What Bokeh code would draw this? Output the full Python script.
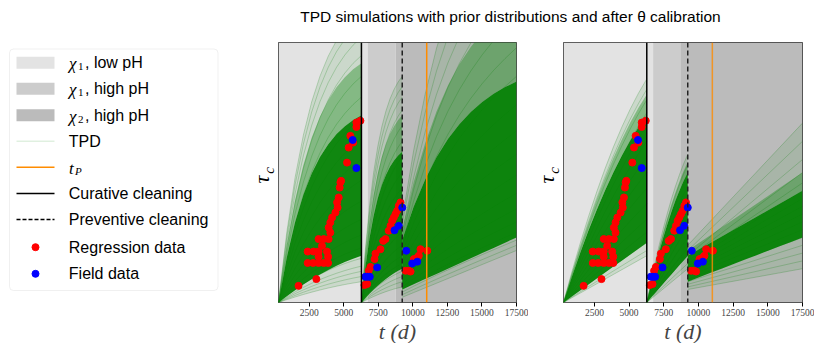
from bokeh.plotting import figure
from bokeh.models import Range1d, BoxAnnotation, Span, FixedTicker
from bokeh.layouts import row, column
from bokeh.embed import file_html
from bokeh.resources import INLINE
from bokeh.core.properties import value
import math

# ---------------- data ----------------
t_min, t_max = 270, 17500
x_ticks = [2500, 5000, 7500, 10000, 12500, 15000, 17500]

regime_edges = [270, 6730, 8740, 17500]
regime_colors = ["#e3e3e3", "#cccccc", "#bbbbbb"]

curative_t = 6274
preventive_t = 9227
t_P = 11000

seg_start = [270, 6274, 9227]
seg_end = [6274, 9227, 17500]

reg_t = [1720, 3010, 2380, 2770, 3170, 3540, 3860, 2380, 2810, 3170, 3780, 3170, 3860,
         3420, 3170, 3540, 3900, 3900, 4020, 4150, 4020, 4390, 4550, 4510, 4630, 4700,
         4750, 4800, 5230, 5350, 5470, 5670, 5910, 6200, 5910,
         6490, 6690, 6800, 6930, 7220, 7290, 7650, 7850, 8020, 8250, 8380, 8500, 8620,
         8740, 8860, 8980, 9100,
         9470, 9700, 9830, 10070, 10320, 10430, 10550, 11040]
reg_y = [6.4, 9.0, 15.2, 15.2, 15.2, 15.2, 15.2, 19.6, 19.6, 19.6, 19.6, 17.6, 17.6,
         21.8, 24.4, 24.4, 24.4, 28.8, 30.8, 32.7, 26.9, 34.6, 36.5, 38.5, 40.4, 44.2,
         46.2, 46.8, 53.8, 59.6, 64.1, 61.5, 69.2, 69.9, 67.5,
         6.7, 7.1, 12.2, 13.7, 16.7, 18.8, 20.5, 23.7, 24.4, 27.6, 29.5, 31.4, 32.7,
         34.0, 35.3, 37.2, 38.5,
         12.2, 12.2, 11.9, 16.7, 17.3, 18.0, 20.5, 19.9]

field_t = [5640, 5910, 6560, 6720, 6880, 7410, 8670, 8980, 9230, 9520, 9950, 10320]
field_y = [62.5, 51.7, 9.9, 9.9, 9.9, 13.5, 27.8, 29.5, 36.5, 19.9, 15.0, 15.7]

# TPD bundle growth profiles (fraction of a segment's rise, at 11 equally spaced times)
shape_u = [0, .1, .2, .3, .4, .5, .6, .7, .8, .9, 1]
shape_lin = [0, .1, .2, .3, .4, .5, .6, .7, .8, .9, 1]
shape_slight = [0, .136, .264, .384, .496, .6, .696, .784, .864, .936, 1]
shape_k2 = [0, .210, .381, .522, .637, .731, .808, .871, .923, .965, 1]
shape_k25 = [0, .241, .429, .575, .689, .777, .846, .900, .942, .975, 1]

# prior TPD simulations: values at the end of each segment
prior_end = [[8, 10, 12, 14, 17, 21, 26, 32, 39, 47, 55, 63, 71, 79, 87, 95, 102, 108, 112],
             [6, 8, 10, 12, 15, 18, 22, 27, 32, 38, 44, 50, 56, 62, 68, 74, 79, 83, 87],
             [20, 22, 24, 27, 31, 36, 42, 49, 57, 66, 76, 87, 98, 110, 122, 134, 146, 158]]
prior_seg3_start = [2, 3, 4, 5, 6, 7, 9, 11, 13, 15, 17, 19, 21, 23, 25, 27, 30, 32]
prior_core_lo = [(0, 18), (0, 13), (5, 25)]
prior_core_hi = [(0, 72), (0, 58), (24, 85)]
prior_mid_hi = [(0, 92), (0, 72), (28, 115)]
prior_shape_low = [shape_slight, shape_slight, shape_lin]
prior_shape_high = [shape_k25, shape_k25, shape_k2]

# posterior (after calibration) TPD simulations
post_end = [[18, 20, 23, 27, 32, 38, 44, 50, 56, 62, 68, 73, 78, 82, 86],
            [13, 15, 18, 21, 25, 29, 33, 37, 41, 45, 49, 53, 57],
            [13, 16, 19, 22, 25, 28, 31, 34, 37, 40, 43, 46, 50, 55, 62, 69]]
post_seg3_start = [5, 6, 7, 8, 9, 10, 11, 12, 13, 14, 15, 16, 17, 18, 20, 22]
post_core_lo = [(0, 23), (0, 18), (8, 25)]
post_core_hi = [(0, 72), (0, 50), (18, 43)]
post_mid_hi = [(0, 80), (0, 54), (20, 50)]
post_shape_low = [shape_lin, shape_lin, shape_lin]
post_shape_high = [shape_slight, shape_slight, shape_lin]

title_text = "TPD simulations with prior distributions and after θ calibration"

legend_math = ["χ", "χ", "χ", "", "t", "", "", "", ""]
legend_sub = ["1", "1", "2", "", "P", "", "", "", ""]
legend_rest = [", low pH", ", high pH", ", high pH", "TPD", "", "Curative cleaning",
               "Preventive cleaning", "Regression data", "Field data"]

SANS = "Liberation Sans"
SERIF = "Liberation Serif"


def curve(v0, v1, shape):
    return [v0 + (v1 - v0) * s for s in shape]


def blend(low, high, w):
    return [(1 - w) * a + w * b for a, b in zip(low, high)]


def make_panel(ends, seg3_start, core_lo, core_hi, mid_hi, sh_low, sh_high,
               left_border, frame_w, right_border, orange_alpha):
    p = figure(frame_width=frame_w, frame_height=260, min_border_left=left_border,
               min_border_right=right_border, min_border_top=4, min_border_bottom=41,
               x_range=Range1d(t_min, t_max), y_range=Range1d(0, 100),
               output_backend="svg", toolbar_location=None)
    p.grid.visible = False
    p.yaxis.visible = False
    p.outline_line_color = "#333333"
    p.outline_line_width = 1
    p.background_fill_color = "white"
    p.border_fill_color = "white"

    ax = p.xaxis[0]
    ax.ticker = FixedTicker(ticks=x_ticks)
    ax.axis_line_color = None
    ax.major_tick_in = 0
    ax.major_tick_out = 4
    ax.minor_tick_line_color = None
    ax.major_label_text_font = SERIF
    ax.major_label_text_font_size = "9.5px"
    ax.major_label_standoff = 2
    ax.axis_label = "t (d)"
    ax.axis_label_text_font = SERIF
    ax.axis_label_text_font_style = "italic"
    ax.axis_label_text_font_size = "22px"
    ax.axis_label_standoff = 0

    for i in range(3):
        p.add_layout(BoxAnnotation(left=regime_edges[i], right=regime_edges[i + 1],
                                   fill_color=regime_colors[i], fill_alpha=1,
                                   line_color=None, level="underlay"))

    for i in range(3):
        t = [seg_start[i] + u * (seg_end[i] - seg_start[i]) for u in shape_u]
        n = len(ends[i])
        starts = seg3_start if i == 2 else [0] * n
        lo_sh, hi_sh = sh_low[i], sh_high[i]
        p.varea(x=t, y1=curve(starts[0], ends[i][0], lo_sh),
                y2=curve(starts[-1], ends[i][-1], hi_sh), fill_color="green", fill_alpha=0.10)
        ys = [curve(starts[j], ends[i][j], blend(lo_sh, hi_sh, j / (n - 1))) for j in range(n)]
        p.multi_line(xs=[t] * n, ys=ys, line_color="green", line_alpha=0.22, line_width=1)
        p.varea(x=t, y1=curve(*core_hi[i], hi_sh), y2=curve(*mid_hi[i], hi_sh),
                fill_color="green", fill_alpha=0.35)
        p.varea(x=t, y1=curve(*core_lo[i], lo_sh), y2=curve(*core_hi[i], hi_sh),
                fill_color="green", fill_alpha=0.92)

    p.add_layout(Span(location=curative_t, dimension="height", line_color="black", line_width=1.5))
    p.add_layout(Span(location=preventive_t, dimension="height", line_color="#222222",
                      line_width=1.5, line_dash="5 3"))
    p.add_layout(Span(location=t_P, dimension="height", line_color="darkorange",
                      line_alpha=orange_alpha, line_width=1.5))

    p.scatter(reg_t, reg_y, size=7, color="red")
    p.scatter(field_t, field_y, size=7, color="blue")
    return p


def add_tau_label(fig, x_tau):
    # y-axis label tau_c (page-pixel coordinates of the hosting strip)
    fig.text(x=[x_tau], y=[175], text=["τ"], text_font=value(SERIF), text_font_style="italic",
             text_font_size="22px", text_align="center", text_baseline="middle", angle=math.pi / 2)
    fig.text(x=[x_tau + 7.5], y=[166], text=["c"], text_font=value(SERIF), text_font_style="italic",
             text_font_size="15px", text_align="center", text_baseline="middle", angle=math.pi / 2)


p_left = make_panel(prior_end, prior_seg3_start, prior_core_lo, prior_core_hi, prior_mid_hi,
                    prior_shape_low, prior_shape_high, 1, 238, 12, 1.0)
p_right = make_panel(post_end, post_seg3_start, post_core_lo, post_core_hi, post_mid_hi,
                     post_shape_low, post_shape_high, 0, 239, 12, 0.8)

# ---------------- legend (also hosts the left panel's y label) ----------------
leg = figure(frame_width=277, frame_height=304, min_border=0,
             x_range=Range1d(0, 277), y_range=Range1d(342, 38),
             output_backend="svg", toolbar_location=None)
leg.axis.visible = False
leg.grid.visible = False
leg.outline_line_color = None
leg.add_layout(BoxAnnotation(left=9, right=217.5, top=44.5, bottom=286, fill_color="white",
                             fill_alpha=1, line_color="#cccccc", line_width=1, border_radius=4,
                             level="underlay"))
row_y = [58.3, 84.3, 110.7, 136.7, 162.7, 189, 215, 242.7, 269.3]
sw_l, sw_r = 16, 54
leg.quad(left=[sw_l] * 3, right=[sw_r] * 3, top=[y - 6 for y in row_y[:3]],
         bottom=[y + 6 for y in row_y[:3]], fill_color=regime_colors, line_color=None)
leg.segment(x0=[sw_l], x1=[sw_r], y0=[row_y[3]], y1=[row_y[3]], line_color="green",
            line_alpha=0.12, line_width=1.5)
leg.segment(x0=[sw_l], x1=[sw_r], y0=[row_y[4]], y1=[row_y[4]], line_color="darkorange", line_width=1.5)
leg.segment(x0=[sw_l], x1=[sw_r], y0=[row_y[5]], y1=[row_y[5]], line_color="black", line_width=1.5)
leg.segment(x0=[sw_l], x1=[sw_r], y0=[row_y[6]], y1=[row_y[6]], line_color="black",
            line_width=1.5, line_dash="4 2")
leg.scatter(x=[35], y=[row_y[7]], size=7, color="red")
leg.scatter(x=[35], y=[row_y[8]], size=7, color="blue")

for i in range(9):
    if legend_math[i]:
        leg.text(x=[68.5], y=[row_y[i] + 1], text=[legend_math[i]], text_font=value(SERIF),
                 text_font_style="italic", text_font_size="17px", text_baseline="middle")
        sub_x = 77.5 if legend_math[i] == "χ" else 74.5
        leg.text(x=[sub_x], y=[row_y[i] + 4], text=[legend_sub[i]], text_font=value(SERIF),
                 text_font_style="italic" if legend_sub[i] == "P" else "normal",
                 text_font_size="11px", text_baseline="middle")
    if legend_rest[i]:
        rx = 84.5 if legend_math[i] else 68.3
        leg.text(x=[rx], y=[row_y[i]], text=[legend_rest[i]], text_font=value(SANS),
                 text_font_size="16px", text_baseline="middle")
add_tau_label(leg, 260.5)

# ---------------- strip between panels (hosts the right panel's y label) ----------------
mid = figure(frame_width=35, frame_height=304, min_border=0,
             x_range=Range1d(528, 563), y_range=Range1d(342, 38),
             output_backend="svg", toolbar_location=None)
mid.axis.visible = False
mid.grid.visible = False
mid.outline_line_color = None
add_tau_label(mid, 545.5)

# ---------------- title ----------------
tt = figure(frame_width=814, frame_height=38, min_border=0,
            x_range=Range1d(0, 814), y_range=Range1d(38, 0),
            output_backend="svg", toolbar_location=None)
tt.axis.visible = False
tt.grid.visible = False
tt.outline_line_color = None
tt.text(x=[510], y=[15.5], text=[title_text], text_font=value(SANS), text_font_size="15.5px",
        text_align="center", text_baseline="middle")

layout = column(tt, row(leg, p_left, mid, p_right))
open("out.html", "w").write(file_html(layout, INLINE))
